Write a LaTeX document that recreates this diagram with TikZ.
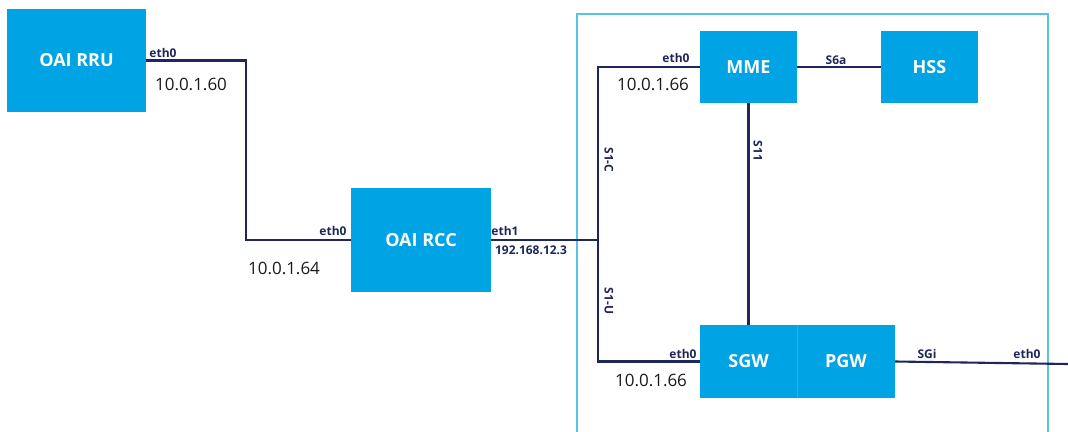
\documentclass[tikz,border=0pt]{standalone}
\usepackage{fontspec}
\setmainfont{Open Sans}
\definecolor{boxblue}{RGB}{0,163,228}
\definecolor{linknavy}{RGB}{30,38,92}
\definecolor{framecyan}{RGB}{86,196,226}
\definecolor{iptext}{RGB}{25,25,25}

\begin{document}
\begin{tikzpicture}[x=1pt,y=-1pt,
    unit/.style={fill=boxblue, text=white, font=\fontsize{18}{20}\selectfont\bfseries,
      inner sep=0pt, minimum width=97pt, minimum height=72pt},
    link/.style={draw=linknavy, line width=2.1pt},
    port/.style={text=linknavy, font=\fontsize{12}{14}\selectfont\bfseries, inner sep=0pt},
    ip/.style={text=iptext, font=\fontsize{17}{19}\selectfont, inner sep=0pt}]

  \useasboundingbox (0,0) rectangle (1068,431);

  % Core network frame
  \draw[framecyan, line width=1.5pt] (577,14) -- (1048,14) -- (1048,445) -- (577,445) -- cycle;

  % Boxes
  \node[unit, minimum width=139pt, minimum height=103pt] (rru) at (76.5,60.5) {OAI RRU};
  \node[unit, minimum width=140pt, minimum height=104pt] (rcc) at (421,240) {OAI RCC};
  \node[unit] (mme) at (748.5,67) {MME};
  \node[unit] (hss) at (929.5,67) {HSS};
  \node[unit, minimum height=73pt] (sgw) at (748.5,361.5) {SGW};
  \node[unit, minimum width=98pt, minimum height=73pt] (pgw) at (846,361.5) {PGW};
  \draw[boxblue!85!white, line width=0.6pt] (sgw.north east) -- (sgw.south east);

  % Points where the links bend
  \coordinate (bendA) at (246,150);
  \coordinate (split) at (598,240);
  \coordinate (out) at (1068,364);

  % Links
  \draw[link] (rru.east) -| (bendA) |- (rcc.west);
  \draw[link] (rcc.east) -- (split);
  \draw[link] (split) |- (mme.west);
  \draw[link] (split) |- (sgw.west);
  \draw[link] (mme.east) -- (hss.west);
  \draw[link] (mme.south) -- (sgw.north);
  \draw[link] (pgw.east) -- (out);

  % Port labels
  \node[port] (rruport) at (163,53) {eth0};
  \node[port] (rccport0) at (333,231) {eth0};
  \node[port] (rccport1) at (505,231) {eth1};
  \node[port] (rccaddr1) at (531,250) {192.168.12.3};
  \node[port] (mmeport) at (676,58) {eth0};
  \node[port] (s6a) at (836,60) {S6a};
  \node[port] (sgwport) at (683,354) {eth0};
  \node[port] (sgi) at (927,354) {SGi};
  \node[port] (outport) at (1027,354) {eth0};

    % Interface names along the vertical links
    \node[port, rotate=-90] (s1c) at (609,160) {S1-C};
    \node[port, rotate=-90] (s11) at (758,151) {S11};
    \node[port, rotate=-90] (s1u) at (609,301) {S1-U};

  % Addresses
  \node[ip] (rruaddr) at (191,84) {10.0.1.60};
  \node[ip] (rccaddr0) at (284,268) {10.0.1.64};
  \node[ip] (mmeaddr) at (653,84) {10.0.1.66};
  \node[ip] (sgwaddr) at (651,380) {10.0.1.66};

\end{tikzpicture}
\end{document}
